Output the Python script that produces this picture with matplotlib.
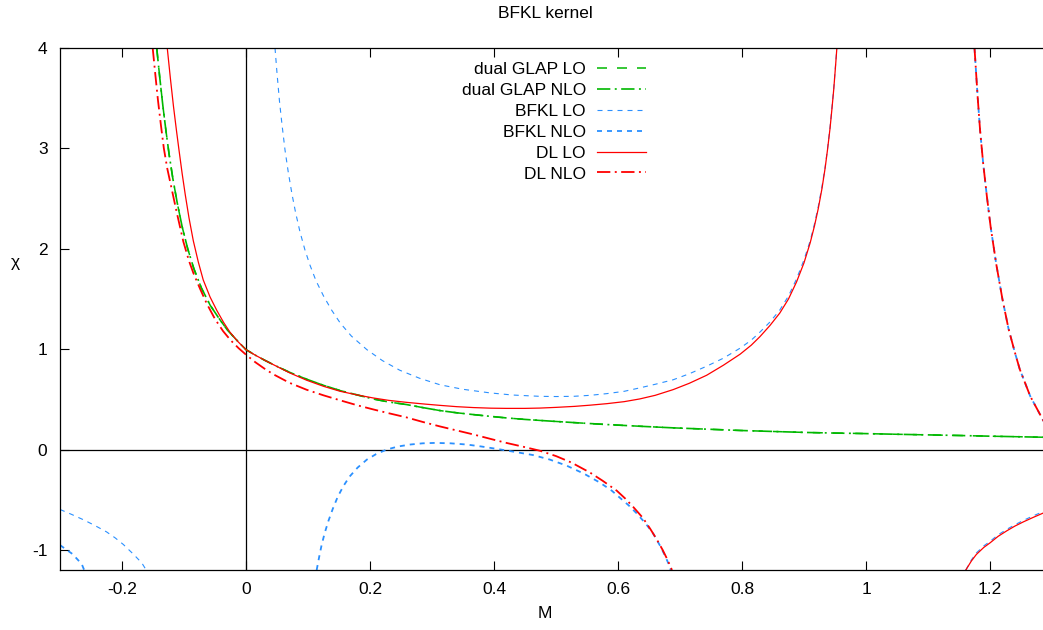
import matplotlib
matplotlib.use('Agg')
import matplotlib.pyplot as plt

NAN = float('nan')

# values; NaN separates the branches of one curve
glap_m = [-0.144, -0.139, -0.134, -0.129, -0.124, -0.118, -0.111, -0.103, -0.094, -0.084,
          -0.072, -0.058, -0.044, -0.03, -0.015, 0.0, 0.015, 0.03, 0.044, 0.07, 0.098,
          0.125, 0.152, 0.18, 0.205, 0.23, 0.259, 0.285, 0.313, 0.34, 0.367, 0.395, 0.42,
          0.45, 0.474, 0.53, 0.582, 0.635, 0.689, 0.743, 0.797, 0.85, 0.904, 0.95, 0.99,
          1.05, 1.1, 1.15, 1.2, 1.25, 1.29]
glap_lo_chi = [4.0, 3.70, 3.42, 3.17, 2.94, 2.70, 2.46, 2.22, 2.0, 1.80,
               1.61, 1.44, 1.31, 1.19, 1.09, 0.995, 0.94, 0.89, 0.846, 0.77, 0.70,
               0.64, 0.587, 0.543, 0.504, 0.474, 0.448, 0.418, 0.388, 0.366, 0.348, 0.33, 0.315,
               0.30, 0.29, 0.268, 0.249, 0.232, 0.216, 0.203, 0.19, 0.18, 0.17, 0.164, 0.16,
               0.152, 0.146, 0.14, 0.133, 0.127, 0.122]
glap_nlo_chi = glap_lo_chi

bfkl_lo_m = [-0.3, -0.281, -0.262, -0.244, -0.225, -0.211, -0.198, -0.182, -0.168, -0.161, NAN,
             0.0468, 0.05, 0.054, 0.058, 0.063, 0.068, 0.074, 0.08, 0.087, 0.095, 0.103, 0.113,
             0.125, 0.138, 0.152, 0.17, 0.195, 0.22, 0.248, 0.28, 0.313, 0.35, 0.394, 0.43,
             0.474, 0.5, 0.528, 0.555, 0.582, 0.61, 0.635, 0.66, 0.689, 0.715, 0.743, 0.77,
             0.797, 0.815, 0.829, 0.845, 0.861, 0.875, 0.888, 0.9, 0.91, 0.917, 0.923, 0.929,
             0.934, 0.938, 0.942, 0.945, 0.948, 0.951, 0.953, NAN,
             1.161, 1.17, 1.178, 1.19, 1.2, 1.213, 1.227, 1.24, 1.254, 1.27, 1.285, 1.29]
bfkl_lo_chi = [-0.597, -0.647, -0.70, -0.756, -0.82, -0.88, -0.945, -1.04, -1.13, -1.2, NAN,
               4.0, 3.75, 3.47, 3.24, 2.98, 2.77, 2.55, 2.36, 2.17, 1.99, 1.84, 1.68,
               1.53, 1.39, 1.26, 1.13, 0.995, 0.886, 0.79, 0.71, 0.645, 0.60, 0.564, 0.543,
               0.53, 0.528, 0.53, 0.54, 0.557, 0.58, 0.614, 0.65, 0.695, 0.755, 0.83, 0.91,
               1.01, 1.09, 1.17, 1.27, 1.39, 1.53, 1.70, 1.89, 2.08, 2.25, 2.42, 2.62,
               2.81, 3.0, 3.21, 3.40, 3.60, 3.84, 4.0, NAN,
               -1.2, -1.10, -1.03, -0.96, -0.915, -0.85, -0.795, -0.75, -0.705, -0.66, -0.62, -0.605]

bfkl_nlo_m = [-0.3, -0.28, -0.265, -0.261, NAN,
              0.114, 0.118, 0.122, 0.127, 0.133, 0.14, 0.148, 0.157, 0.167, 0.18, 0.195, 0.21,
              0.227, 0.245, 0.265, 0.285, 0.305, 0.33, 0.356, 0.38, 0.404, 0.435, 0.463, 0.49,
              0.517, 0.545, 0.571, 0.59, 0.603, 0.617, 0.63, 0.645, 0.657, 0.668, 0.676,
              0.681, 0.685, NAN,
              1.175, 1.180, 1.184, 1.189, 1.195, 1.201, 1.21, 1.22, 1.23, 1.24, 1.248,
              1.265, 1.285, 1.29]
bfkl_nlo_chi = [-0.952, -1.04, -1.14, -1.2, NAN,
                -1.2, -1.07, -0.95, -0.83, -0.71, -0.59, -0.47, -0.365, -0.27, -0.18, -0.10, -0.045,
                0.0, 0.03, 0.05, 0.062, 0.066, 0.062, 0.05, 0.03, 0.007, -0.025, -0.055, -0.10,
                -0.16, -0.24, -0.33, -0.41, -0.48, -0.555, -0.635, -0.74, -0.84, -0.96, -1.06,
                -1.13, -1.2, NAN,
                4.0, 3.52, 3.18, 2.85, 2.52, 2.22, 1.85, 1.5, 1.2, 0.97, 0.80,
                0.53, 0.30, 0.24]

dl_lo_m = [-0.127, -0.122, -0.117, -0.112, -0.108, -0.103, -0.098, -0.092, -0.085, -0.077,
           -0.069, -0.058, -0.047, -0.036, -0.026, -0.013, 0.0, 0.015, 0.03, 0.044, 0.07,
           0.098, 0.125, 0.152, 0.18, 0.205, 0.23, 0.259, 0.29, 0.313, 0.34, 0.367, 0.395,
           0.42, 0.45, 0.474, 0.5, 0.53, 0.555, 0.582, 0.61, 0.635, 0.66, 0.689, 0.715,
           0.743, 0.77, 0.797, 0.815, 0.829, 0.845, 0.861, 0.875, 0.888, 0.9, 0.91, 0.917,
           0.923, 0.929, 0.934, 0.938, 0.942, 0.945, 0.948, 0.951, 0.953, NAN,
           1.161, 1.17, 1.178, 1.19, 1.2, 1.213, 1.227, 1.24, 1.254, 1.27, 1.285, 1.29]
dl_lo_chi = [4.0, 3.70, 3.42, 3.17, 2.98, 2.75, 2.54, 2.31, 2.08, 1.87,
             1.69, 1.52, 1.385, 1.265, 1.17, 1.075, 0.995, 0.94, 0.89, 0.846, 0.765,
             0.69, 0.63, 0.58, 0.543, 0.514, 0.49, 0.47, 0.452, 0.44, 0.427, 0.418, 0.412,
             0.41, 0.41, 0.413, 0.42, 0.43, 0.442, 0.457, 0.477, 0.504, 0.54, 0.597, 0.66,
             0.74, 0.84, 0.95, 1.04, 1.125, 1.235, 1.36, 1.50, 1.67, 1.86, 2.06, 2.23,
             2.40, 2.60, 2.80, 2.99, 3.20, 3.39, 3.59, 3.83, 4.0, NAN,
             -1.2, -1.11, -1.045, -0.975, -0.93, -0.865, -0.81, -0.763, -0.72, -0.675, -0.635, -0.62]

dl_nlo_m = [-0.1505, -0.146, -0.142, -0.137, -0.1325, -0.127, -0.12, -0.112, -0.101, -0.092,
            -0.085, -0.074, -0.063, -0.05, -0.037, -0.025, -0.012, 0.0, 0.015, 0.03, 0.044,
            0.07, 0.098, 0.125, 0.152, 0.18, 0.205, 0.23, 0.259, 0.285, 0.313, 0.34, 0.367,
            0.395, 0.42, 0.447, 0.474, 0.5, 0.525, 0.555, 0.575, 0.598, 0.612, 0.625, 0.64,
            0.652, 0.663, 0.672, 0.68, 0.687, NAN,
            1.175, 1.180, 1.184, 1.189, 1.195, 1.201, 1.21, 1.22, 1.23, 1.24, 1.248,
            1.265, 1.285, 1.29]
dl_nlo_chi = [4.0, 3.72, 3.48, 3.22, 3.0, 2.80, 2.60, 2.37, 2.07, 1.88,
              1.76, 1.60, 1.45, 1.30, 1.18, 1.09, 1.01, 0.945, 0.87, 0.805, 0.75,
              0.665, 0.595, 0.54, 0.49, 0.44, 0.40, 0.362, 0.32, 0.275, 0.23, 0.19, 0.15,
              0.105, 0.066, 0.028, -0.012, -0.065, -0.13, -0.23, -0.31, -0.41, -0.49, -0.575, -0.68,
              -0.79, -0.90, -1.0, -1.1, -1.2, NAN,
              4.0, 3.52, 3.18, 2.85, 2.52, 2.22, 1.85, 1.5, 1.2, 0.97, 0.80,
              0.53, 0.30, 0.24]

x_ticks = [-0.2, 0, 0.2, 0.4, 0.6, 0.8, 1, 1.2]
x_tick_labels = ['-0.2', '0', '0.2', '0.4', '0.6', '0.8', '1', '1.2']
y_ticks = [-1, 0, 1, 2, 3, 4]

GREEN = '#00b800'
BLUE = '#2a90ff'
RED = '#ff0000'
DASH_DOT = (9.6, 3.2, 1.4, 3.2)

plt.rcParams['font.family'] = ['Liberation Sans', 'DejaVu Sans']
plt.rcParams['font.size'] = 12.5
plt.rcParams['axes.unicode_minus'] = False
plt.rcParams['lines.scale_dashes'] = False

W, H = 1043, 630
fig = plt.figure(figsize=(W / 100, H / 100), dpi=100)
# plot area: M=-0.3 at x=60px, 620 px per unit; chi 4 at y=48px down to -1.2 at y=570px
ax = fig.add_axes([60 / W, (H - 570) / H, 992 / W, 522 / H])
ax.set_xlim(-0.3, 1.3)
ax.set_ylim(-1.2, 4)

ax.axhline(0, color='black', lw=0.9, zorder=1)
ax.axvline(0, color='black', lw=0.9, zorder=1)

ax.plot(glap_m, glap_lo_chi, color=GREEN, lw=1.1, dashes=(7.2, 7.2), label='dual GLAP LO')
ax.plot(glap_m, glap_nlo_chi, color=GREEN, lw=1.2, dashes=DASH_DOT, label='dual GLAP NLO')
ax.plot(bfkl_lo_m, bfkl_lo_chi, color=BLUE, lw=0.8, dashes=(3.6, 3.6), label='BFKL LO')
ax.plot(bfkl_nlo_m, bfkl_nlo_chi, color=BLUE, lw=1.3, dashes=(3.6, 3.6), label='BFKL NLO')
ax.plot(dl_lo_m, dl_lo_chi, color=RED, lw=0.9, label='DL LO')
ax.plot(dl_nlo_m, dl_nlo_chi, color=RED, lw=1.3, dashes=DASH_DOT, label='DL NLO')

ax.set_xticks(x_ticks)
ax.set_xticklabels(x_tick_labels)
ax.set_yticks(y_ticks)
ax.tick_params(direction='in', top=True, right=True, length=6.5, width=0.8)
ax.tick_params(axis='x', pad=9)
ax.tick_params(axis='y', pad=9)
for s in ax.spines.values():
    s.set_linewidth(0.9)

ax.legend(loc='upper right', bbox_to_anchor=(646 / W, 1 - 62 / H),
          bbox_transform=fig.transFigure, frameon=False, markerfirst=False,
          handlelength=2.85, handletextpad=0.62, labelspacing=0.33,
          borderpad=0, borderaxespad=0)

fig.text(545 / W, 1 - 14 / H, 'BFKL kernel', ha='center', va='center')
fig.text(545 / W, 1 - 613 / H, 'M', ha='center', va='center')
fig.text(15 / W, 1 - 262 / H, 'χ', ha='center', va='center')

fig.savefig('out.png', dpi=100)
